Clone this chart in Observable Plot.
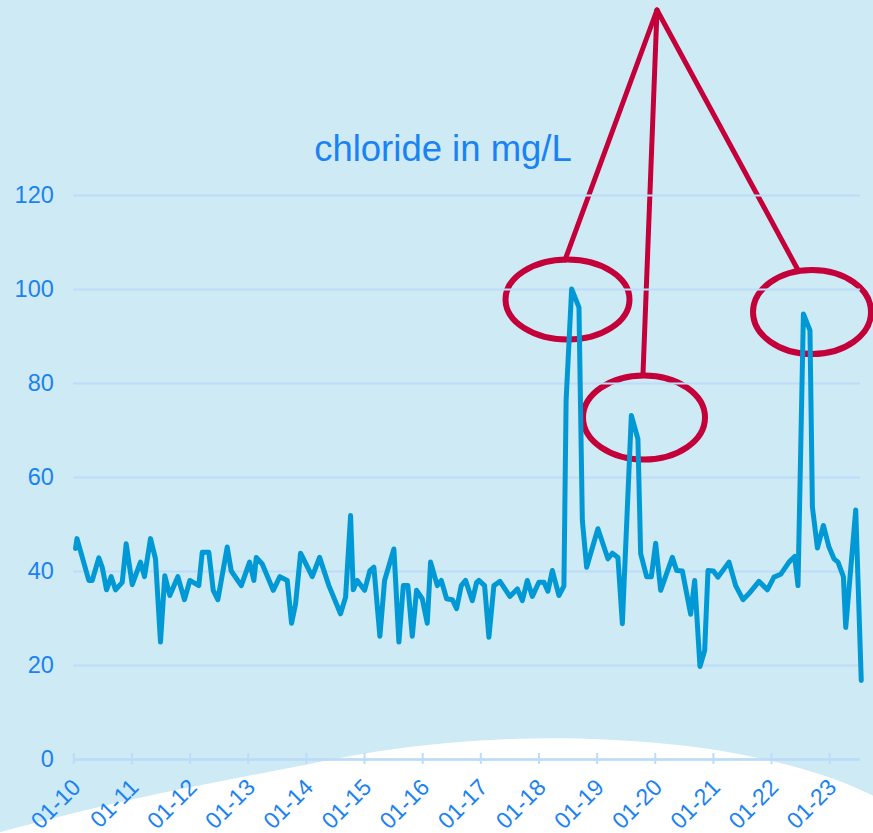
<!DOCTYPE html>
<html>
<head>
<meta charset="utf-8">
<script src="https://cdn.jsdelivr.net/npm/d3@7"></script>
<script src="https://cdn.jsdelivr.net/npm/@observablehq/plot@0.6"></script>
<style>
  html, body { margin: 0; padding: 0; }
  #wrap { position: relative; width: 873px; height: 833px; background: #cdeaf5; overflow: hidden; font-family: "Liberation Sans", Arial, sans-serif; }
  #bg, #chart { position: absolute; left: 0; top: 0; }
</style>
</head>
<body>
<div id="wrap">
  <svg id="bg" width="873" height="833"></svg>
  <div id="chart"></div>
</div>
<script>
// ---- data ----
const years = [2010, 2011, 2012, 2013, 2014, 2015, 2016, 2017, 2018, 2019, 2020, 2021, 2022, 2023];
const tickLabels = ["01-10", "01-11", "01-12", "01-13", "01-14", "01-15", "01-16", "01-17", "01-18", "01-19", "01-20", "01-21", "01-22", "01-23"];
const yTicks = [0, 20, 40, 60, 80, 100, 120];
const title = "chloride in mg/L";

// time in decimal years
const time = [
  2010.03, 2010.055, 2010.258, 2010.317, 2010.43, 2010.489, 2010.563, 2010.643, 2010.717, 2010.833,
  2010.901, 2011.005, 2011.147, 2011.216, 2011.319, 2011.405, 2011.491, 2011.565, 2011.651, 2011.789,
  2011.904, 2011.996, 2012.15, 2012.209, 2012.322, 2012.398, 2012.477, 2012.639, 2012.708, 2012.88,
  2013.023, 2013.097, 2013.138, 2013.241, 2013.43, 2013.544, 2013.671, 2013.745, 2013.814, 2013.9,
  2014.101, 2014.227, 2014.387, 2014.587, 2014.674, 2014.76, 2014.806, 2014.875, 2015.001, 2015.092,
  2015.161, 2015.264, 2015.345, 2015.505, 2015.591, 2015.667, 2015.746, 2015.821, 2015.895, 2015.993,
  2016.079, 2016.136, 2016.252, 2016.32, 2016.412, 2016.51, 2016.584, 2016.664, 2016.738, 2016.854,
  2016.928, 2016.967, 2017.065, 2017.139, 2017.225, 2017.329, 2017.5, 2017.628, 2017.714, 2017.8,
  2017.886, 2017.999, 2018.085, 2018.154, 2018.23, 2018.343, 2018.429, 2018.467, 2018.562, 2018.688,
  2018.746, 2018.82, 2019.014, 2019.186, 2019.262, 2019.358, 2019.434, 2019.589, 2019.702, 2019.749,
  2019.852, 2019.933, 2020.007, 2020.093, 2020.294, 2020.368, 2020.466, 2020.609, 2020.678, 2020.769,
  2020.85, 2020.907, 2021.0, 2021.079, 2021.268, 2021.383, 2021.509, 2021.612, 2021.784, 2021.928,
  2022.042, 2022.157, 2022.3, 2022.398, 2022.455, 2022.548, 2022.661, 2022.703, 2022.789, 2022.892,
  2022.988, 2023.074, 2023.143, 2023.236, 2023.276, 2023.448, 2023.543
];
// chloride in mg/L
const chloride = [
  44.9, 47.0, 38.1, 38.1, 42.9, 40.9, 36.1, 38.9, 36.1, 37.7,
  45.9, 37.2, 42.0, 38.9, 47.0, 42.7, 25.0, 39.1, 34.9, 38.9,
  34.0, 38.1, 37.0, 44.1, 44.1, 36.0, 34.0, 45.2, 40.1, 37.0,
  42.0, 38.1, 43.0, 41.6, 36.0, 38.9, 38.1, 29.0, 33.1, 43.9,
  38.9, 43.0, 37.0, 31.0, 34.5, 51.9, 36.1, 38.1, 36.0, 40.2,
  40.9, 26.2, 38.1, 44.8, 25.0, 37.0, 37.0, 26.2, 36.0, 34.2,
  29.0, 42.0, 37.0, 38.1, 34.2, 34.0, 32.1, 37.0, 38.1, 33.8,
  37.7, 38.1, 37.0, 26.0, 37.0, 37.9, 34.7, 36.3, 33.8, 38.1,
  34.7, 37.7, 37.7, 35.8, 40.2, 34.9, 36.9, 76.4, 100.1, 96.2,
  50.9, 40.9, 49.1, 42.7, 43.9, 43.0, 28.9, 73.2, 68.2, 43.8,
  38.9, 38.9, 46.0, 36.0, 43.0, 40.2, 40.1, 30.9, 38.1, 19.8,
  23.2, 40.2, 40.1, 38.8, 42.0, 37.0, 34.0, 35.3, 37.9, 36.1,
  38.8, 39.4, 42.0, 43.2, 37.0, 94.8, 91.3, 53.7, 45.0, 49.8,
  45.2, 42.7, 42.0, 38.9, 28.1, 53.1, 16.8
];

const rows = time.map((t, i) => ({t, v: chloride[i]}));

// ---- styles ----
const lineColor = "#0099d6";
const gridColor = "#bcdcf9";
const labelColor = "#1a82f2";
const red = "#c4003a";

// ---- background decoration: white wave at the bottom ----
const bg = d3.select("#bg");
const wavePts = [[-40,843],[0,832],[100,806],[200,785],[300,766],[380,750],[450,742],[520,738],[580,738],[640,741],[700,747],[763,758],[830,776],[873,795],[910,815]];
bg.append("path")
  .attr("d", d3.line().curve(d3.curveBasis)(wavePts) + "L910,860L-40,860Z")
  .attr("fill", "#ffffff");

// ---- chart ----
const chart = Plot.plot({
  width: 873,
  height: 833,
  marginTop: 195,
  marginBottom: 74,
  marginLeft: 73.3,
  marginRight: 13,
  style: {background: "transparent", fontFamily: "'Liberation Sans', Arial, sans-serif", overflow: "visible"},
  x: {domain: [2010, 2023.53]},
  y: {domain: [0, 120]},
  marks: [
    Plot.gridY(yTicks, {stroke: gridColor, strokeOpacity: 1, strokeWidth: 2}),
    Plot.ruleY([0], {stroke: gridColor, strokeWidth: 2.5}),
    Plot.ruleX(years, {x: d => d, y1: 0, y2: 0, insetTop: -6, insetBottom: -5, stroke: gridColor, strokeWidth: 2}),
    Plot.axisY(yTicks, {tickSize: 0, tickPadding: 20, fontSize: 23.5, fill: labelColor, label: null}),
    Plot.axisX(years, {tickSize: 0, tickPadding: 24, dx: 3, tickRotate: -45, fontSize: 23, fill: labelColor, label: null,
      tickFormat: d => tickLabels[years.indexOf(d)]}),
    Plot.line(rows, {x: "t", y: "v", stroke: lineColor, strokeWidth: 5, strokeLinejoin: "round"})
  ]
});
document.getElementById("chart").appendChild(chart);

// ---- annotations (drawn beneath the data line) ----
const ann = bg.append("g").attr("fill", "none").attr("stroke", red);
const ellipses = [
  {cx: 567.5, cy: 299.5, rx: 62, ry: 40},
  {cx: 644, cy: 417.5, rx: 61, ry: 42},
  {cx: 812, cy: 312, rx: 59, ry: 42}
];
ann.selectAll("ellipse").data(ellipses).join("ellipse")
  .attr("cx", d => d.cx).attr("cy", d => d.cy).attr("rx", d => d.rx).attr("ry", d => d.ry)
  .attr("stroke-width", 6);
const apex = [657, 10];
const ends = [[565, 260], [643, 374], [798, 270]];
ann.selectAll("line").data(ends).join("line")
  .attr("x1", apex[0]).attr("y1", apex[1]).attr("x2", d => d[0]).attr("y2", d => d[1])
  .attr("stroke-width", 5).attr("stroke-linecap", "round");

// ---- title ----
bg.append("text")
  .attr("x", 443).attr("y", 161)
  .attr("text-anchor", "middle")
  .attr("font-family", "'Liberation Sans', Arial, sans-serif")
  .attr("font-size", 36.5)
  .attr("fill", labelColor)
  .text(title);
</script>
</body>
</html>
